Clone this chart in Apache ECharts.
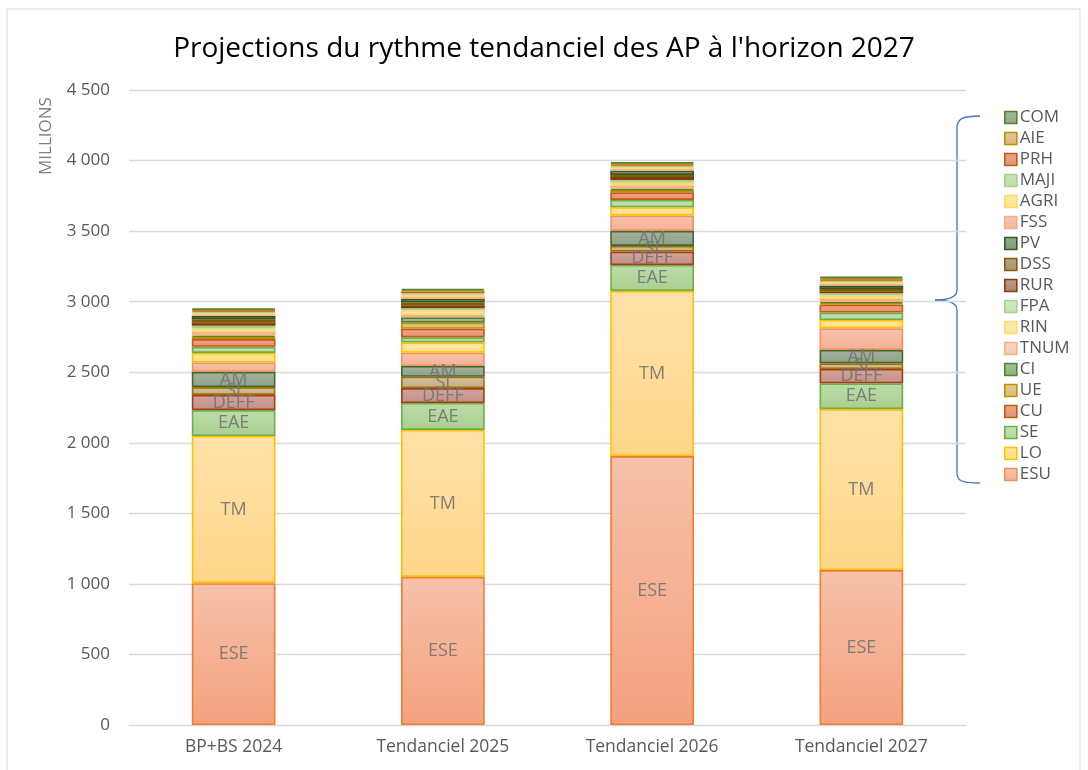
<!DOCTYPE html>
<html>
<head>
<meta charset="utf-8">
<script src="https://cdn.jsdelivr.net/npm/echarts@6/dist/echarts.min.js"></script>
<style>
  html, body { margin: 0; padding: 0; background: #fff; }
  #chart { width: 1088px; height: 770px; }
</style>
</head>
<body>
<div id="chart"></div>
<script>
// catégories
const categories = ['BP+BS 2024', 'Tendanciel 2025', 'Tendanciel 2026', 'Tendanciel 2027']

// séries empilées (du bas vers le haut), valeurs en millions
const seriesNames = ['ESE', 'TM', 'EAE', 'DEFF', 'SI', 'AM', 'ESU', 'LO', 'SE', 'CU', 'UE', 'CI',
  'TNUM', 'RIN', 'FPA', 'RUR', 'DSS', 'PV', 'FSS', 'AGRI', 'MAJI', 'PRH', 'AIE', 'COM']

const ESE = [1005, 1049, 1906, 1098]
const TM = [1043, 1042, 1170, 1141]
const EAE = [184, 191, 184, 182]
const DEFF = [107, 106, 94, 102]
const SI = [56, 80, 41, 40]
const AM = [107, 76, 106, 95]
const ESU = [67, 94, 109, 153]
const LO = [68, 73, 59, 59]
const SE = [43, 36, 52, 53]
const CU = [55, 61, 54, 56]
const UE = [15, 43, 17, 10]
const CI = [10, 38, 8, 10]
const TNUM = [25, 20, 25, 20]
const RIN = [25, 30, 20, 25]
const FPA = [20, 15, 18, 15]
const RUR = [25, 20, 20, 15]
const DSS = [20, 20, 15, 15]
const PV = [25, 25, 30, 25]
const FSS = [10, 15, 15, 15]
const AGRI = [12, 15, 12, 12]
const MAJI = [8, 10, 8, 8]
const PRH = [8, 12, 10, 10]
const AIE = [5, 9, 8, 8]
const COM = [8, 10, 7, 10]

const values = [ESE, TM, EAE, DEFF, SI, AM, ESU, LO, SE, CU, UE, CI,
  TNUM, RIN, FPA, RUR, DSS, PV, FSS, AGRI, MAJI, PRH, AIE, COM]

// séries étiquetées dans les barres
const labelled = ['ESE', 'TM', 'EAE', 'DEFF', 'SI', 'AM']
// légende (de haut en bas)
const legendItems = ['COM', 'AIE', 'PRH', 'MAJI', 'AGRI', 'FSS', 'PV', 'DSS', 'RUR', 'FPA', 'RIN', 'TNUM', 'CI', 'UE', 'CU', 'SE', 'LO', 'ESU']

// [fond haut, fond bas, bordure]
const palette = {
  ESE: ['#f7c1aa', '#f4a27f', '#ed7d31'],
  TM: ['#ffe2a8', '#ffd68a', '#ffc000'],
  EAE: ['#bcdcaa', '#a9d08e', '#70ad47'],
  DEFF: ['#d3a49d', '#c48f87', '#a33f16'],
  SI: ['#d6bf9c', '#c8ad85', '#9a7300'],
  AM: ['#a3b29c', '#8fa08a', '#43682b'],
  ESU: ['#f8c4ae', '#f4b094', '#ed9361'],
  LO: ['#ffe79f', '#ffdf88', '#ffc000'],
  SE: ['#c5e2b4', '#b3d79c', '#70ad47'],
  CU: ['#eea58c', '#e88f72', '#c55a11'],
  UE: ['#e8cb94', '#ddb877', '#bf9000'],
  CI: ['#a5c096', '#92b080', '#548235'],
  TNUM: ['#fbd5c3', '#f8c7b2', '#f4b183'],
  RIN: ['#ffeaae', '#ffe39a', '#ffd966'],
  FPA: ['#d3e8c6', '#c5e0b4', '#a9d18e'],
  RUR: ['#c09a90', '#b08070', '#843c0c'],
  DSS: ['#b8a386', '#a89070', '#7f6000'],
  PV: ['#93a88c', '#7f9a78', '#375623'],
  FSS: ['#f8c4ae', '#f4b8a0', '#f4b183'],
  AGRI: ['#ffeaa8', '#ffe38f', '#ffd966'],
  MAJI: ['#c9e4b9', '#b8dca8', '#a9d18e'],
  PRH: ['#e9a68a', '#e09070', '#c55a11'],
  AIE: ['#e2c697', '#d8b880', '#bf9000'],
  COM: ['#a2b896', '#8faa80', '#548235'],
}

const fmt = v => String(v).replace(/\B(?=(\d{3})+(?!\d))/g, ' ')

const chart = echarts.init(document.getElementById('chart'))

const series = seriesNames.map((name, i) => {
  const [top, bottom, border] = palette[name]
  return {
    name,
    type: 'bar',
    stack: 'total',
    barWidth: '40%',
    data: values[i],
    itemStyle: {
      color: {
        type: 'linear', x: 0, y: 0, x2: 0, y2: 1,
        colorStops: [
          { offset: 0, color: top },
          { offset: 1, color: bottom },
        ],
      },
      borderColor: border,
      borderWidth: 1.6,
    },
    label: {
      show: labelled.includes(name),
      position: 'inside',
      formatter: '{a}',
      color: 'rgba(115,115,115,0.9)',
      fontSize: 18,
      fontFamily: 'Open Sans',
    },
    emphasis: { disabled: true },
  }
})

// accolade bleue à droite
const braceStyle = { stroke: '#4472c4', lineWidth: 1.3, fill: 'none' }
const brace = [
  { type: 'bezierCurve', shape: { x1: 980, y1: 116, cpx1: 962, cpy1: 116, cpx2: 957, cpy2: 119, x2: 957, y2: 128 } },
  { type: 'line', shape: { x1: 957, y1: 128, x2: 957, y2: 290 } },
  { type: 'bezierCurve', shape: { x1: 957, y1: 290, cpx1: 957, cpy1: 297, cpx2: 950, cpy2: 300, x2: 935, y2: 300 } },
  { type: 'bezierCurve', shape: { x1: 935, y1: 300, cpx1: 950, cpy1: 300, cpx2: 957, cpy2: 303, x2: 957, y2: 310 } },
  { type: 'line', shape: { x1: 957, y1: 310, x2: 957, y2: 473 } },
  { type: 'bezierCurve', shape: { x1: 957, y1: 473, cpx1: 957, cpy1: 481, cpx2: 962, cpy2: 483, x2: 980, y2: 483 } },
].map(el => ({ ...el, style: braceStyle, silent: true }))

chart.setOption({
  animation: false,
  backgroundColor: '#fff',
  title: {
    text: "Projections du rythme tendanciel des AP à l'horizon 2027",
    left: 'center',
    top: 30,
    textStyle: { fontFamily: 'Open Sans', fontWeight: 'normal', fontSize: 28, color: '#000' },
  },
  grid: { left: 129, right: 122, top: 90, bottom: 45 },
  xAxis: {
    type: 'category',
    data: categories,
    axisLine: { show: true, lineStyle: { color: '#d9d9d9' } },
    axisTick: { show: false },
    axisLabel: { color: '#595959', fontSize: 17.5, fontFamily: 'Open Sans', margin: 13 },
  },
  yAxis: {
    type: 'value',
    min: 0,
    max: 4500,
    interval: 500,
    axisLine: { show: false },
    axisTick: { show: false },
    axisLabel: { color: '#595959', fontSize: 17, fontFamily: 'Open Sans', margin: 19, formatter: fmt },
    splitLine: { lineStyle: { color: '#d9d9d9', width: 1.3 } },
  },
  legend: {
    orient: 'vertical',
    left: 999,
    top: 104,
    data: legendItems,
    itemWidth: 12,
    itemHeight: 12,
    itemGap: 4,
    icon: 'rect',
    selectedMode: false,
    textStyle: { color: '#595959', fontSize: 17, fontFamily: 'Open Sans', padding: [0, 0, 0, -2] },
    itemStyle: { borderWidth: 1.6 },
  },
  graphic: [
    {
      type: 'rect',
      shape: { x: 7, y: 9, width: 1073, height: 765 },
      style: { fill: 'none', stroke: '#d9d9d9', lineWidth: 1 },
      silent: true,
    },
    {
      type: 'text',
      x: 46,
      y: 136,
      rotation: Math.PI / 2,
      style: {
        text: 'MILLIONS',
        fill: '#7f7f7f',
        font: '17px "Open Sans"',
        align: 'center',
        verticalAlign: 'middle',
      },
    },
    ...brace,
  ],
  series,
})
</script>
</body>
</html>
